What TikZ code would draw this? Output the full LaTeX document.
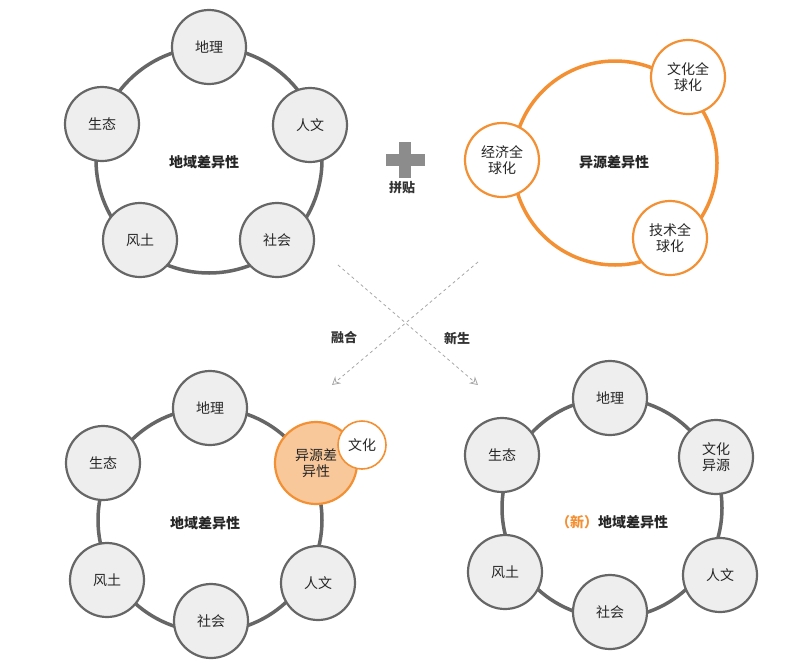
\documentclass[tikz,border=0pt]{standalone}
\usepackage{fontspec}
\setmainfont{Noto Sans CJK SC}
\usetikzlibrary{arrows.meta}
\definecolor{ring}{HTML}{666666}
\definecolor{org}{HTML}{F39034}
\definecolor{orgfill}{HTML}{F8C89A}
\definecolor{nodefill}{HTML}{EEEEEE}
\begin{document}
\begin{tikzpicture}[x=1pt,y=-1pt,
  gn/.style={circle,draw=ring,line width=2.2pt,fill=nodefill,minimum size=74pt,inner sep=0pt,font=\fontsize{14}{16}\selectfont,align=center,text=black!85},
  on/.style={circle,draw=org,line width=2.2pt,fill=white,minimum size=74pt,inner sep=0pt,font=\fontsize{14}{16}\selectfont,align=center,text=black!85},
  bigring/.style={draw=ring,line width=3.5pt},
  orgring/.style={draw=org,line width=3.5pt},
  title/.style={font=\bfseries\fontsize{14}{16}\selectfont,text=black!85},
  lab/.style={font=\bfseries\fontsize{13}{15}\selectfont,text=black!80},
  dl/.style={draw=black!35,dashed,line width=0.8pt,-{Stealth[open,length=8pt,width=9pt]}}]
\useasboundingbox (0,0) rectangle (786,664);
% top-left
\draw[bigring] (209,160) circle (113);
\node[title] (t1) at (204,162) {地域差异性};
\node[gn] (a1) at (209,47) {地理};
\node[gn] (a2) at (310,125) {人文};
\node[gn] (a3) at (277,240) {社会};
\node[gn] (a4) at (140,240) {风土};
\node[gn] (a5) at (102,124) {生态};
% plus
\fill[black!45] (386,154) rectangle (425,166);
\fill[black!45] (399,142) rectangle (411,178);
\node[lab] (pj) at (402,188) {拼贴};
% top-right
\draw[orgring] (615,163) circle (102);
\node[title] (t2) at (614,162) {异源差异性};
\node[on] (b1) at (688,77) {文化全\\球化};
\node[on] (b2) at (502,160) {经济全\\球化};
\node[on] (b3) at (670,238) {技术全\\球化};
% cross
\coordinate (c1) at (338,265); \coordinate (c2) at (478,385);
\coordinate (c3) at (478,262); \coordinate (c4) at (332,385);
\draw[dl] (c1) -- (c2);
\draw[dl] (c3) -- (c4);
\node[lab] (rh) at (344,338) {融合};
\node[lab] (xs) at (457,338) {新生};
% bottom-left
\draw[bigring] (210,520) circle (112);
\node[title] (t3) at (205,523) {地域差异性};
\node[gn] (d1) at (210,408) {地理};
\node[gn] (d3) at (318,583) {人文};
\node[gn] (d4) at (211,621) {社会};
\node[gn] (d5) at (107,580) {风土};
\node[gn] (d6) at (103,463) {生态};
\node[circle,draw=org,line width=2.2pt,fill=orgfill,minimum size=82pt,inner sep=0pt,font=\fontsize{14}{16}\selectfont,align=center,text=black!85] (d2) at (316,463) {异源差\\异性};
\node[circle,draw=org,line width=1.6pt,fill=white,minimum size=48pt,inner sep=0pt,font=\fontsize{14}{16}\selectfont,text=black!85] (d7) at (362,445) {文化};
% bottom-right
\draw[bigring] (612,508) circle (110);
\node[title] (t4) at (612,522) {\textcolor{org}{（新）}地域差异性};
\node[gn] (e1) at (610,398) {地理};
\node[gn] (e2) at (716,457) {文化\\异源};
\node[gn] (e3) at (720,575) {人文};
\node[gn] (e4) at (610,612) {社会};
\node[gn] (e5) at (505,572) {风土};
\node[gn] (e6) at (502,455) {生态};
\end{tikzpicture}
\end{document}
